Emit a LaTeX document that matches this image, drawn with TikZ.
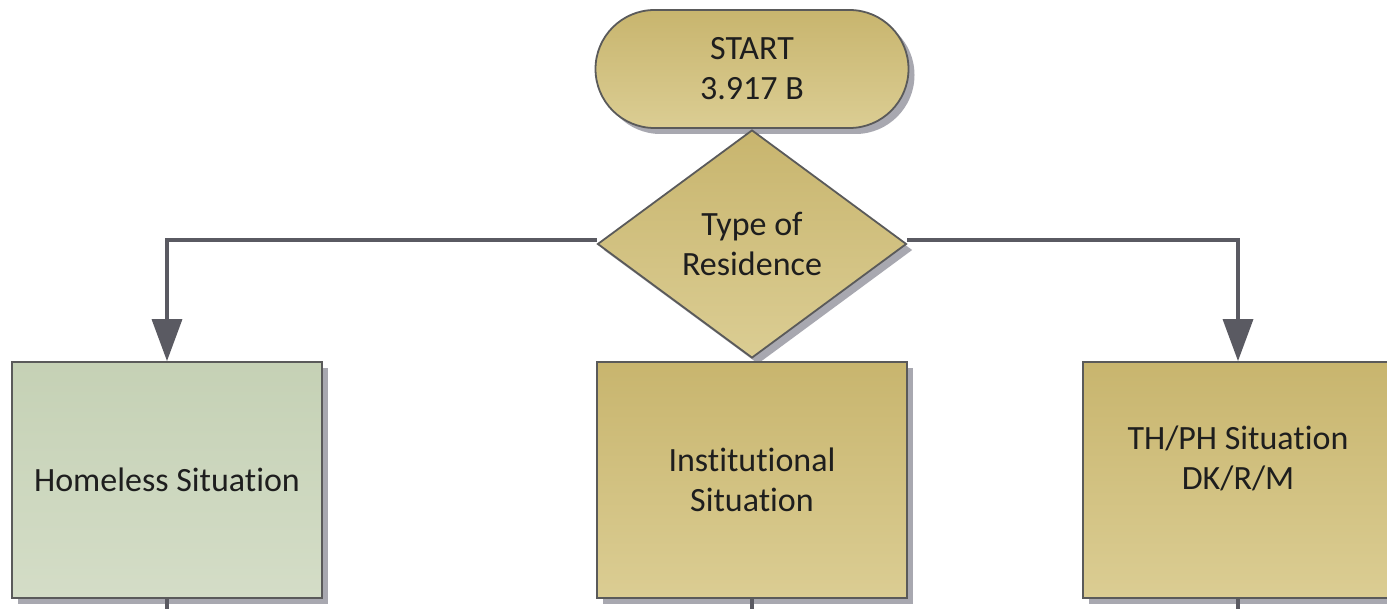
\documentclass[tikz,border=0pt]{standalone}
\usepackage{fontspec}
\setmainfont{Carlito}[Ligatures=NoCommon]
\usetikzlibrary{shapes.geometric,arrows.meta,shadows,calc}
\definecolor{goldtop}{HTML}{C8B56E}
\definecolor{goldbot}{HTML}{DBCD93}
\definecolor{greentop}{HTML}{C5D1B5}
\definecolor{greenbot}{HTML}{D4DDC7}
\definecolor{bordergray}{HTML}{5A5A5A}
\definecolor{linegray}{HTML}{5A5A62}
\definecolor{shadowgray}{HTML}{A8A8B0}
\definecolor{textcol}{HTML}{1E1E1E}
\begin{document}
\begin{tikzpicture}[x=1pt,y=-1pt,
  shapebase/.style={draw=bordergray, line width=1.8pt, inner sep=0pt, align=center,
    font=\fontsize{34pt}{40pt}\selectfont, text=textcol,
    drop shadow={shadow xshift=6pt, shadow yshift=-6pt, fill=shadowgray, opacity=1}},
  goldfill/.style={top color=goldtop, bottom color=goldbot},
  greenfill/.style={top color=greentop, bottom color=greenbot},
  boxnode/.style={shapebase, minimum width=310pt, minimum height=236pt},
  termnode/.style={shapebase, goldfill, minimum width=313pt, minimum height=118pt, rounded corners=59pt},
  decnode/.style={shapebase, goldfill, shape=diamond, minimum width=309pt, minimum height=228pt},
  labelnode/.style={inner sep=0pt, align=center, font=\fontsize{34pt}{40pt}\selectfont, text=textcol},
  conn/.style={draw=linegray, line width=3.5pt, -{Triangle[length=42pt,width=30pt]}},
  plainline/.style={draw=linegray, line width=3.5pt}
]
\clip (0,0) rectangle (1387,609);
\fill[white] (0,0) rectangle (1387,609);

\node[termnode] (s) at (752,69) {START\\3.917 B};
\node[decnode] (d) at (752,244) {Type of\\Residence};

\node[boxnode, greenfill] (h) at (167,480) {Homeless Situation};
\node[boxnode, goldfill] (i) at (752,480) {Institutional\\Situation};
\node[boxnode, goldfill] (t) at (1238,480) {};
\node[labelnode] (tl) at (1238,458) {TH/PH Situation\\DK/R/M};

\draw[conn] ([yshift=4pt]d.west) -| (h.north);
\draw[conn] ([yshift=4pt]d.east) -| (t.north);

\coordinate (hb) at (167,612);
\coordinate (ib) at (752,612);
\coordinate (tb) at (1238,612);
\draw[plainline] (h.south) -- (hb);
\draw[plainline] (i.south) -- (ib);
\draw[plainline] (t.south) -- (tb);
\end{tikzpicture}
\end{document}
